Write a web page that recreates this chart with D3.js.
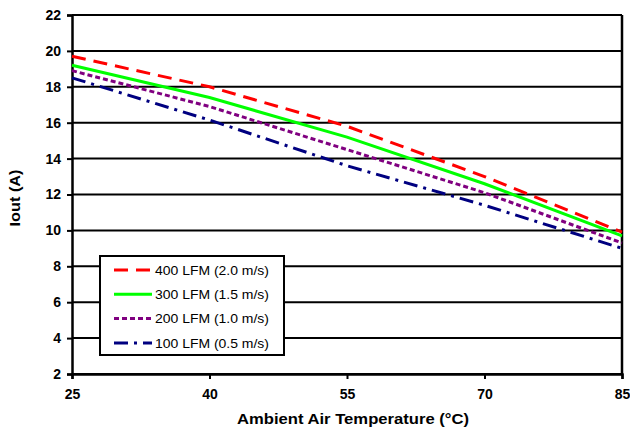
<!DOCTYPE html>
<html>
<head>
<meta charset="utf-8">
<script src="https://cdn.jsdelivr.net/npm/d3@7"></script>
<style>
  body { margin: 0; background: #fff; }
  svg { font-family: "Liberation Sans", Arial, sans-serif; }
</style>
</head>
<body>
<div id="chart"></div>
<script>
// data
const temps = [25, 40, 55, 70, 85];
const lfm400 = [19.7, 18.0, 15.8, 13.0, 9.9];
const lfm300 = [19.2, 17.4, 15.2, 12.6, 9.7];
const lfm200 = [18.9, 16.9, 14.5, 12.1, 9.3];
const lfm100 = [18.5, 16.15, 13.6, 11.4, 9.0];
const seriesNames = ['400 LFM (2.0 m/s)', '300 LFM (1.5 m/s)', '200 LFM (1.0 m/s)', '100 LFM (0.5 m/s)'];
const yTicks = [2, 4, 6, 8, 10, 12, 14, 16, 18, 20, 22];
const xTicks = [25, 40, 55, 70, 85];

const series = [
    { name: seriesNames[0], values: lfm400, color: '#ff0000', dash: '14,8' },
    { name: seriesNames[1], values: lfm300, color: '#00ff00', dash: null },
    { name: seriesNames[2], values: lfm200, color: '#800080', dash: '5,3' },
    { name: seriesNames[3], values: lfm100, color: '#000080', dash: '14,6,3,6' }
];

const width = 630, height = 429;
const margin = { left: 72, right: 8, top: 15, bottom: 55 };

const svg = d3.select('#chart').append('svg')
    .attr('width', width)
    .attr('height', height);

const x = d3.scaleLinear().domain([25, 85]).range([margin.left, width - margin.right]);
const y = d3.scaleLinear().domain([2, 22]).range([height - margin.bottom, margin.top]);

// gridlines
svg.append('g')
    .selectAll('line')
    .data(yTicks)
    .join('line')
    .attr('x1', x(25)).attr('x2', x(85))
    .attr('y1', d => y(d)).attr('y2', d => y(d))
    .attr('stroke', '#000')
    .attr('stroke-width', 2);

// right frame
svg.append('line')
    .attr('x1', x(85)).attr('x2', x(85))
    .attr('y1', y(22)).attr('y2', y(2))
    .attr('stroke', '#000').attr('stroke-width', 2.5);

// axes
const yAxis = svg.append('g')
    .attr('transform', `translate(${x(25)},0)`)
    .call(d3.axisLeft(y).tickValues(yTicks).tickSize(5).tickPadding(6));
const xAxis = svg.append('g')
    .attr('transform', `translate(0,${y(2)})`)
    .call(d3.axisBottom(x).tickValues(xTicks).tickSize(5).tickPadding(10));

[yAxis, xAxis].forEach(g => {
    g.select('.domain').attr('stroke', '#000').attr('stroke-width', 2.5);
    g.selectAll('.tick line').attr('stroke', '#000').attr('stroke-width', 2);
    g.selectAll('.tick text')
        .attr('fill', '#000')
        .style('font-size', '14px')
        .style('font-weight', 'bold')
        .style('font-family', '"Liberation Sans", Arial, sans-serif');
});

// lines
const line = d3.line()
    .x((d, i) => x(temps[i]))
    .y(d => y(d));

svg.append('g')
    .selectAll('path')
    .data(series)
    .join('path')
    .attr('d', d => line(d.values))
    .attr('fill', 'none')
    .attr('stroke', d => d.color)
    .attr('stroke-width', 3)
    .attr('stroke-dasharray', d => d.dash);

// legend
const legend = svg.append('g').attr('transform', 'translate(100,256)');
legend.append('rect')
    .attr('x', 0).attr('y', 0)
    .attr('width', 184).attr('height', 99)
    .attr('fill', '#fff')
    .attr('stroke', '#000')
    .attr('stroke-width', 2);

const item = legend.selectAll('g.item')
    .data(series)
    .join('g')
    .attr('class', 'item')
    .attr('transform', (d, i) => `translate(0,${14 + i * 24.3})`);

item.append('line')
    .attr('x1', 14).attr('x2', 52)
    .attr('y1', 0).attr('y2', 0)
    .attr('stroke', d => d.color)
    .attr('stroke-width', 3)
    .attr('stroke-dasharray', d => d.dash);

item.append('text')
    .attr('x', 55).attr('y', 0)
    .attr('dy', '0.35em')
    .attr('textLength', 114)
    .attr('lengthAdjust', 'spacingAndGlyphs')
    .style('font-size', '13.5px')
    .text(d => d.name);

// axis titles
svg.append('text')
    .attr('x', 353)
    .attr('y', 424)
    .attr('text-anchor', 'middle')
    .attr('textLength', 232)
    .attr('lengthAdjust', 'spacingAndGlyphs')
    .style('font-size', '15px')
    .style('font-weight', 'bold')
    .text('Ambient Air Temperature (°C)');

svg.append('text')
    .attr('transform', 'translate(20,198) rotate(-90)')
    .attr('text-anchor', 'middle')
    .attr('textLength', 57)
    .attr('lengthAdjust', 'spacingAndGlyphs')
    .style('font-size', '14.5px')
    .style('font-weight', 'bold')
    .text('Iout (A)');
</script>
</body>
</html>
